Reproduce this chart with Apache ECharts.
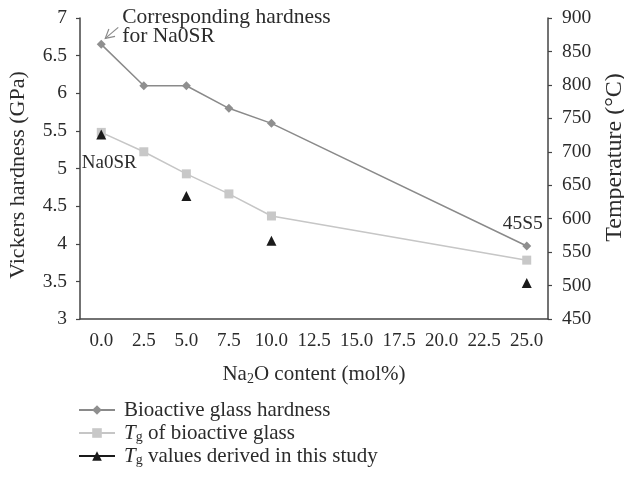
<!DOCTYPE html>
<html>
<head>
<meta charset="utf-8">
<script src="https://cdn.jsdelivr.net/npm/echarts@6/dist/echarts.min.js"></script>
<style>html,body{margin:0;padding:0;background:#fff}#c{width:624px;height:481px}</style>
</head>
<body>
<div id="c"></div>
<script>
const categories = ['0.0','2.5','5.0','7.5','10.0','12.5','15.0','17.5','20.0','22.5','25.0'];
const hardness = [6.65, 6.1, 6.1, 5.8, 5.6, null, null, null, null, null, 3.97];
const tgGlass = [729, 700, 667, 637, 604, null, null, null, null, null, 538];
const tgStudy = [726, null, 634, null, 567, null, null, null, null, null, 504];
const leftTicks = {min: 3, max: 7, interval: 0.5};
const rightTicks = {min: 450, max: 900, interval: 50};

const FONT = 'Liberation Serif';
const TXT = '#2b2b2b';
const AX = '#444';

const chart = echarts.init(document.getElementById('c'));
const option = {
  animation: false,
  textStyle: {fontFamily: FONT, color: TXT},
  grid: {left: 80, right: 76, top: 18, bottom: 162, containLabel: false, outerBoundsMode: 'none'},
  xAxis: {
    type: 'category', data: categories, boundaryGap: true,
    axisLine: {lineStyle: {color: AX, width: 1.5}},
    axisTick: {alignWithLabel: true, length: 4, lineStyle: {color: AX, width: 1.2}},
    axisLabel: {fontFamily: FONT, fontSize: 19, color: TXT, margin: 13, interval: 0},
    name: 'Na{n|}{sub|2}{n|O content (mol%)}', nameLocation: 'middle', nameGap: 43,
    nameTextStyle: {fontFamily: FONT, fontSize: 21, color: TXT, lineHeight: 24,
      rich: {
        n: {fontFamily: FONT, fontSize: 21, color: TXT, lineHeight: 24},
        sub: {fontFamily: FONT, fontSize: 14, color: TXT, verticalAlign: 'bottom', lineHeight: 13}
      }}
  },
  yAxis: [{
    type: 'value', min: leftTicks.min, max: leftTicks.max, interval: leftTicks.interval,
    splitLine: {show: false},
    axisLine: {show: true, lineStyle: {color: AX, width: 1.5}},
    axisTick: {show: true, length: 4, lineStyle: {color: AX, width: 1.2}},
    axisLabel: {fontFamily: FONT, fontSize: 19.5, color: TXT, margin: 13},
    name: 'Vickers hardness (GPa)', nameLocation: 'middle', nameGap: 51, nameRotate: 90,
    nameTextStyle: {fontFamily: FONT, fontSize: 22, color: TXT, padding: [0, 13, 0, 0]}
  }, {
    type: 'value', position: 'right', min: rightTicks.min, max: rightTicks.max, interval: rightTicks.interval,
    splitLine: {show: false},
    axisLine: {show: true, lineStyle: {color: AX, width: 1.5}},
    axisTick: {show: true, length: 4, lineStyle: {color: AX, width: 1.2}},
    axisLabel: {fontFamily: FONT, fontSize: 19.5, color: TXT, margin: 14},
    name: 'Temperature (°C)', nameLocation: 'middle', nameGap: 55, nameRotate: 90,
    nameTextStyle: {fontFamily: FONT, fontSize: 24, color: TXT, padding: [0, 0, 0, 22]}
  }],
  legend: {
    orient: 'vertical', left: 78, top: 399, padding: 0, height: 120, itemWidth: 36, itemHeight: 12, itemGap: 1,
    textStyle: {fontFamily: FONT, fontSize: 21, color: TXT, lineHeight: 22, padding: [0, 0, 0, 4],
      rich: {
        i: {fontFamily: FONT, fontSize: 21, fontStyle: 'italic', color: TXT, lineHeight: 22},
        sub: {fontFamily: FONT, fontSize: 14, color: TXT, verticalAlign: 'bottom', lineHeight: 12},
        n: {fontFamily: FONT, fontSize: 21, color: TXT, lineHeight: 22}
      }},
    formatter: function (name) {
      if (name === 'Tg of bioactive glass') return '{i|T}{sub|g}{n| of bioactive glass}';
      if (name === 'Tg values derived in this study') return '{i|T}{sub|g}{n| values derived in this study}';
      return name;
    },
    data: [
      {name: 'Bioactive glass hardness'},
      {name: 'Tg of bioactive glass'},
      {name: 'Tg values derived in this study', lineStyle: {width: 2, color: '#1a1a1a', opacity: 1}}
    ]
  },
  series: [{
    name: 'Bioactive glass hardness', type: 'line', yAxisIndex: 0, data: hardness, connectNulls: true,
    symbol: 'diamond', symbolSize: 9,
    lineStyle: {color: '#8a8a8a', width: 1.5}, itemStyle: {color: '#8f8f8f'}
  }, {
    name: 'Tg of bioactive glass', type: 'line', yAxisIndex: 1, data: tgGlass, connectNulls: true,
    symbol: 'rect', symbolSize: 9,
    lineStyle: {color: '#c6c6c6', width: 1.5}, itemStyle: {color: '#c8c8c8'}
  }, {
    name: 'Tg values derived in this study', type: 'line', yAxisIndex: 1, data: tgStudy, connectNulls: false,
    symbol: 'triangle', symbolSize: 10,
    lineStyle: {width: 0, color: '#1a1a1a'}, itemStyle: {color: '#1a1a1a'}
  }]
};
chart.setOption(option);

const p0 = chart.convertToPixel({xAxisIndex: 0, yAxisIndex: 0}, [0, hardness[0]]);
const p25 = chart.convertToPixel({xAxisIndex: 0, yAxisIndex: 0}, [10, hardness[10]]);
const t0 = chart.convertToPixel({xAxisIndex: 0, yAxisIndex: 1}, [0, tgStudy[0]]);
const ax = p0[0] + 4, ay = p0[1] - 6;
const bx = p0[0] + 17, by = p0[1] - 17;
const ang = Math.atan2(by - ay, bx - ax);
const hl = 10, spread = 0.5;
chart.setOption({
  graphic: [
    {type: 'line', shape: {x1: bx, y1: by, x2: ax, y2: ay}, style: {stroke: '#8a8a8a', lineWidth: 1.2}},
    {type: 'polyline', shape: {points: [
      [ax + hl * Math.cos(ang + spread), ay + hl * Math.sin(ang + spread)],
      [ax, ay],
      [ax + hl * Math.cos(ang - spread), ay + hl * Math.sin(ang - spread)]
    ]}, style: {stroke: '#8a8a8a', lineWidth: 1.2, fill: null}},
    {type: 'text', x: p0[0] + 21, y: p0[1] - 36, style: {text: 'Corresponding hardness\nfor Na0SR', font: '21.5px "Liberation Serif"', fill: TXT, lineHeight: 19, textAlign: 'left', textVerticalAlign: 'top'}},
    {type: 'text', x: t0[0] + 8, y: t0[1] + 29, style: {text: 'Na0SR', font: '19px "Liberation Serif"', fill: TXT, textAlign: 'center', textVerticalAlign: 'middle'}},
    {type: 'text', x: p25[0] - 4, y: p25[1] - 22, style: {text: '45S5', font: '19.5px "Liberation Serif"', fill: TXT, textAlign: 'center', textVerticalAlign: 'middle'}}
  ]
});
</script>
</body>
</html>
